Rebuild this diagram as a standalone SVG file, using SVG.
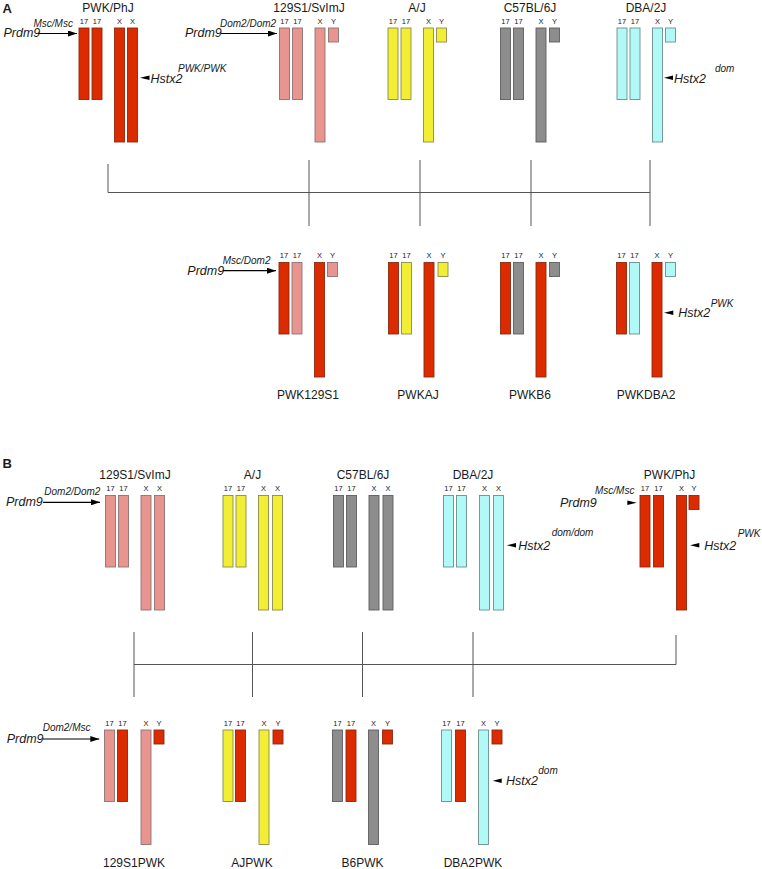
<svg xmlns="http://www.w3.org/2000/svg" width="762" height="869" viewBox="0 0 762 869">
<style>
text{font-family:"Liberation Sans",Arial,sans-serif;fill:#1a1a1a}
.hd{font-size:13px;font-weight:bold}
.t{font-size:12px;text-anchor:middle}
.lab{font-size:7.5px;text-anchor:middle}
.it{font-size:12.5px;font-style:italic}
.sup{font-size:10px;font-style:italic}
rect{stroke-width:0.9}
.red{fill:#DD2B00;stroke:#8A2A12}
.pink{fill:#E9958F;stroke:#8C7472}
.yel{fill:#F2EE33;stroke:#8C8A50}
.gry{fill:#8D8D8D;stroke:#5E5E5E}
.cyn{fill:#B0F9F6;stroke:#6E8E8E}
.con{fill:none;stroke:#555;stroke-width:1}
.arr{stroke:#000;stroke-width:1.2;fill:none}
.ah{fill:#000}
</style>
<defs>
<marker id="m" markerUnits="userSpaceOnUse" markerWidth="10" markerHeight="6" refX="9" refY="3" orient="auto"><path d="M0,0 L9,3 L0,6 z" fill="#000"/></marker>
</defs>

<text class="hd" x="2.5" y="12.5">A</text>
<text class="hd" x="2.5" y="467.5">B</text>

<!-- Panel A top -->
<g id="A-PWK">
<text class="t" x="108" y="11.5">PWK/PhJ</text>
<text class="lab" x="84" y="23.5">17</text><text class="lab" x="97" y="23.5">17</text><text class="lab" x="119.5" y="23.5">X</text><text class="lab" x="132.5" y="23.5">X</text>
<rect class="red" x="79" y="28" width="10" height="71.5"/><rect class="red" x="92" y="28" width="10" height="71.5"/>
<rect class="red" x="114.5" y="28" width="10" height="114"/><rect class="red" x="127.5" y="28" width="10" height="114"/>
<text class="it" x="3.5" y="36.5">Prdm9</text><line class="arr" x1="38" y1="33.5" x2="77" y2="33.5" marker-end="url(#m)"/><text class="sup" x="33.5" y="27">Msc/Msc</text>
<polygon class="ah" points="140,77.7 149.5,75.5 149.5,79.9"/><text class="it" x="150.5" y="83">Hstx2</text><text class="sup" x="178" y="71.5">PWK/PWK</text>
</g>
<g id="A-129S1">
<text class="t" x="309" y="11.5">129S1/SvImJ</text>
<text class="lab" x="284.5" y="23.5">17</text><text class="lab" x="297.5" y="23.5">17</text><text class="lab" x="320" y="23.5">X</text><text class="lab" x="333.5" y="23.5">Y</text>
<rect class="pink" x="279.5" y="28" width="10" height="71.5"/><rect class="pink" x="292.5" y="28" width="10" height="71.5"/>
<rect class="pink" x="315" y="28" width="10" height="114"/><rect class="pink" x="328.5" y="28" width="10" height="14"/>
<text class="it" x="185" y="36.5">Prdm9</text><line class="arr" x1="221" y1="33.5" x2="277" y2="33.5" marker-end="url(#m)"/><text class="sup" x="220" y="27">Dom2/Dom2</text>
</g>
<g id="A-AJ">
<text class="t" x="417" y="11.5">A/J</text>
<text class="lab" x="393" y="23.5">17</text><text class="lab" x="406" y="23.5">17</text><text class="lab" x="428.5" y="23.5">X</text><text class="lab" x="441.5" y="23.5">Y</text>
<rect class="yel" x="388" y="28" width="10" height="71.5"/><rect class="yel" x="401" y="28" width="10" height="71.5"/>
<rect class="yel" x="423.5" y="28" width="10" height="114"/><rect class="yel" x="436.5" y="28" width="10" height="14"/>
</g>
<g id="A-C57">
<text class="t" x="530" y="11.5">C57BL/6J</text>
<text class="lab" x="505.5" y="23.5">17</text><text class="lab" x="518.5" y="23.5">17</text><text class="lab" x="541" y="23.5">X</text><text class="lab" x="554.5" y="23.5">Y</text>
<rect class="gry" x="500.5" y="28" width="10" height="71.5"/><rect class="gry" x="513.5" y="28" width="10" height="71.5"/>
<rect class="gry" x="536" y="28" width="10" height="114"/><rect class="gry" x="549.5" y="28" width="10" height="14"/>
</g>
<g id="A-DBA">
<text class="t" x="646" y="11.5">DBA/2J</text>
<text class="lab" x="622" y="23.5">17</text><text class="lab" x="635" y="23.5">17</text><text class="lab" x="657.5" y="23.5">X</text><text class="lab" x="670.5" y="23.5">Y</text>
<rect class="cyn" x="617" y="28" width="10" height="71.5"/><rect class="cyn" x="630" y="28" width="10" height="71.5"/>
<rect class="cyn" x="652.5" y="28" width="10" height="114"/><rect class="cyn" x="665.5" y="28" width="10" height="14"/>
<polygon class="ah" points="664,77.7 673,75.5 673,79.9"/><text class="it" x="674" y="83">Hstx2</text><text class="sup" x="715" y="72">dom</text>
</g>

<!-- Panel A bottom -->
<g id="A-PWK129S1">
<text class="lab" x="284" y="258">17</text><text class="lab" x="297" y="258">17</text><text class="lab" x="319.5" y="258">X</text><text class="lab" x="332.5" y="258">Y</text>
<rect class="red" x="279" y="262.5" width="10" height="71.5"/><rect class="pink" x="292" y="262.5" width="10" height="71.5"/>
<rect class="red" x="314.5" y="262.5" width="10" height="114.5"/><rect class="pink" x="327.5" y="262.5" width="10" height="14"/>
<text class="it" x="187.3" y="275">Prdm9</text><line class="arr" x1="223" y1="270.7" x2="276" y2="270.7" marker-end="url(#m)"/><text class="sup" x="222.7" y="264">Msc/Dom2</text>
<text class="t" x="308" y="399">PWK129S1</text>
</g>
<g id="A-PWKAJ">
<text class="lab" x="393.5" y="258">17</text><text class="lab" x="406.5" y="258">17</text><text class="lab" x="429" y="258">X</text><text class="lab" x="443" y="258">Y</text>
<rect class="red" x="388.5" y="262.5" width="10" height="71.5"/><rect class="yel" x="401.5" y="262.5" width="10" height="71.5"/>
<rect class="red" x="424" y="262.5" width="10" height="114.5"/><rect class="yel" x="438" y="262.5" width="10" height="14"/>
<text class="t" x="418" y="399">PWKAJ</text>
</g>
<g id="A-PWKB6">
<text class="lab" x="505.5" y="258">17</text><text class="lab" x="518.5" y="258">17</text><text class="lab" x="541" y="258">X</text><text class="lab" x="554.5" y="258">Y</text>
<rect class="red" x="500.5" y="262.5" width="10" height="71.5"/><rect class="gry" x="513.5" y="262.5" width="10" height="71.5"/>
<rect class="red" x="536" y="262.5" width="10" height="114.5"/><rect class="gry" x="549.5" y="262.5" width="10" height="14"/>
<text class="t" x="530" y="399">PWKB6</text>
</g>
<g id="A-PWKDBA2">
<text class="lab" x="621.5" y="258">17</text><text class="lab" x="634.5" y="258">17</text><text class="lab" x="657" y="258">X</text><text class="lab" x="670.5" y="258">Y</text>
<rect class="red" x="616.5" y="262.5" width="10" height="71.5"/><rect class="cyn" x="629.5" y="262.5" width="10" height="71.5"/>
<rect class="red" x="652" y="262.5" width="10" height="114.5"/><rect class="cyn" x="665.5" y="262.5" width="10" height="14"/>
<polygon class="ah" points="664,312.7 673.3,310.5 673.3,314.9"/><text class="it" x="678.3" y="316.7">Hstx2</text><text class="sup" x="710.7" y="306.7">PWK</text>
<text class="t" x="646" y="399">PWKDBA2</text>
</g>

<!-- Panel B top -->
<g id="B-129S1">
<text class="t" x="135" y="478.5">129S1/SvImJ</text>
<text class="lab" x="110.5" y="491">17</text><text class="lab" x="123.5" y="491">17</text><text class="lab" x="146" y="491">X</text><text class="lab" x="159.5" y="491">X</text>
<rect class="pink" x="105.5" y="495.5" width="10" height="71.5"/><rect class="pink" x="118.5" y="495.5" width="10" height="71.5"/>
<rect class="pink" x="141" y="495.5" width="10" height="114.5"/><rect class="pink" x="154.5" y="495.5" width="10" height="114.5"/>
<text class="it" x="6" y="506">Prdm9</text><line class="arr" x1="43" y1="502.3" x2="100" y2="502.3" marker-end="url(#m)"/><text class="sup" x="44.3" y="495">Dom2/Dom2</text>
</g>
<g id="B-AJ">
<text class="t" x="252.5" y="478.5">A/J</text>
<text class="lab" x="228" y="491">17</text><text class="lab" x="241" y="491">17</text><text class="lab" x="263.5" y="491">X</text><text class="lab" x="277.5" y="491">X</text>
<rect class="yel" x="223" y="495.5" width="10" height="71.5"/><rect class="yel" x="236" y="495.5" width="10" height="71.5"/>
<rect class="yel" x="258.5" y="495.5" width="10" height="114.5"/><rect class="yel" x="272.5" y="495.5" width="10" height="114.5"/>
</g>
<g id="B-C57">
<text class="t" x="363" y="478.5">C57BL/6J</text>
<text class="lab" x="338.5" y="491">17</text><text class="lab" x="351.5" y="491">17</text><text class="lab" x="374" y="491">X</text><text class="lab" x="388" y="491">X</text>
<rect class="gry" x="333.5" y="495.5" width="10" height="71.5"/><rect class="gry" x="346.5" y="495.5" width="10" height="71.5"/>
<rect class="gry" x="369" y="495.5" width="10" height="114.5"/><rect class="gry" x="383" y="495.5" width="10" height="114.5"/>
</g>
<g id="B-DBA">
<text class="t" x="473" y="478.5">DBA/2J</text>
<text class="lab" x="448.5" y="491">17</text><text class="lab" x="461.5" y="491">17</text><text class="lab" x="484.5" y="491">X</text><text class="lab" x="498.5" y="491">X</text>
<rect class="cyn" x="443.5" y="495.5" width="10" height="71.5"/><rect class="cyn" x="456.5" y="495.5" width="10" height="71.5"/>
<rect class="cyn" x="479.5" y="495.5" width="10" height="114.5"/><rect class="cyn" x="493.5" y="495.5" width="10" height="114.5"/>
<polygon class="ah" points="506.7,545.3 516,543.1 516,547.5"/><text class="it" x="518.3" y="549.5">Hstx2</text><text class="sup" x="551.7" y="536">dom/dom</text>
</g>
<g id="B-PWK">
<text class="t" x="669.5" y="478.5">PWK/PhJ</text>
<text class="lab" x="645" y="491">17</text><text class="lab" x="658.5" y="491">17</text><text class="lab" x="681.5" y="491">X</text><text class="lab" x="694" y="491">Y</text>
<rect class="red" x="640" y="495.5" width="10" height="71.5"/><rect class="red" x="653.5" y="495.5" width="10" height="71.5"/>
<rect class="red" x="676.5" y="495.5" width="10" height="114.5"/><rect class="red" x="689" y="495.5" width="10" height="14"/>
<text class="it" x="560" y="506.5">Prdm9</text><polygon class="ah" points="636.7,502.7 627.3,500.5 627.3,504.9"/><text class="sup" x="595" y="494">Msc/Msc</text>
<polygon class="ah" points="690,545.3 699.3,543.1 699.3,547.5"/><text class="it" x="704.3" y="549.5">Hstx2</text><text class="sup" x="737.7" y="537.3">PWK</text>
</g>

<!-- Panel B bottom -->
<g id="B-129S1PWK">
<text class="lab" x="109.5" y="725.5">17</text><text class="lab" x="122.5" y="725.5">17</text><text class="lab" x="146" y="725.5">X</text><text class="lab" x="159" y="725.5">Y</text>
<rect class="pink" x="104.5" y="730" width="10" height="71.5"/><rect class="red" x="117.5" y="730" width="10" height="71.5"/>
<rect class="pink" x="141" y="730" width="10" height="114.5"/><rect class="red" x="154" y="730" width="10" height="14"/>
<text class="it" x="6.7" y="742.7">Prdm9</text><line class="arr" x1="43" y1="739" x2="99.3" y2="739" marker-end="url(#m)"/><text class="sup" x="42.7" y="730.7">Dom2/Msc</text>
<text class="t" x="134" y="866.5">129S1PWK</text>
</g>
<g id="B-AJPWK">
<text class="lab" x="228" y="725.5">17</text><text class="lab" x="240.5" y="725.5">17</text><text class="lab" x="264" y="725.5">X</text><text class="lab" x="278" y="725.5">Y</text>
<rect class="yel" x="223" y="730" width="10" height="71.5"/><rect class="red" x="235.5" y="730" width="10" height="71.5"/>
<rect class="yel" x="259" y="730" width="10" height="114.5"/><rect class="red" x="273" y="730" width="10" height="14"/>
<text class="t" x="252" y="866.5">AJPWK</text>
</g>
<g id="B-B6PWK">
<text class="lab" x="337.5" y="725.5">17</text><text class="lab" x="351" y="725.5">17</text><text class="lab" x="373.5" y="725.5">X</text><text class="lab" x="387.5" y="725.5">Y</text>
<rect class="gry" x="332.5" y="730" width="10" height="71.5"/><rect class="red" x="346" y="730" width="10" height="71.5"/>
<rect class="gry" x="368.5" y="730" width="10" height="114.5"/><rect class="red" x="382.5" y="730" width="10" height="14"/>
<text class="t" x="362.5" y="866.5">B6PWK</text>
</g>
<g id="B-DBA2PWK">
<text class="lab" x="446.5" y="725.5">17</text><text class="lab" x="460.5" y="725.5">17</text><text class="lab" x="483.5" y="725.5">X</text><text class="lab" x="497" y="725.5">Y</text>
<rect class="cyn" x="441.5" y="730" width="10" height="71.5"/><rect class="red" x="455.5" y="730" width="10" height="71.5"/>
<rect class="cyn" x="478.5" y="730" width="10" height="114.5"/><rect class="red" x="492" y="730" width="10" height="14"/>
<polygon class="ah" points="492.7,780.7 501.7,778.5 501.7,782.9"/><text class="it" x="506" y="784.5">Hstx2</text><text class="sup" x="538.3" y="774">dom</text>
<text class="t" x="473" y="866.5">DBA2PWK</text>
</g>

<g id="connectors">
<path class="con" d="M108,164 V192.5 H650 M309,160 V226 M420,160 V226 M531,160 V226 M650,160 V226"/>
<path class="con" d="M676,635 V664.5 H134 M134,632 V697 M252.5,632 V697 M362.5,632 V697 M473,632 V697"/>
</g>
</svg>
